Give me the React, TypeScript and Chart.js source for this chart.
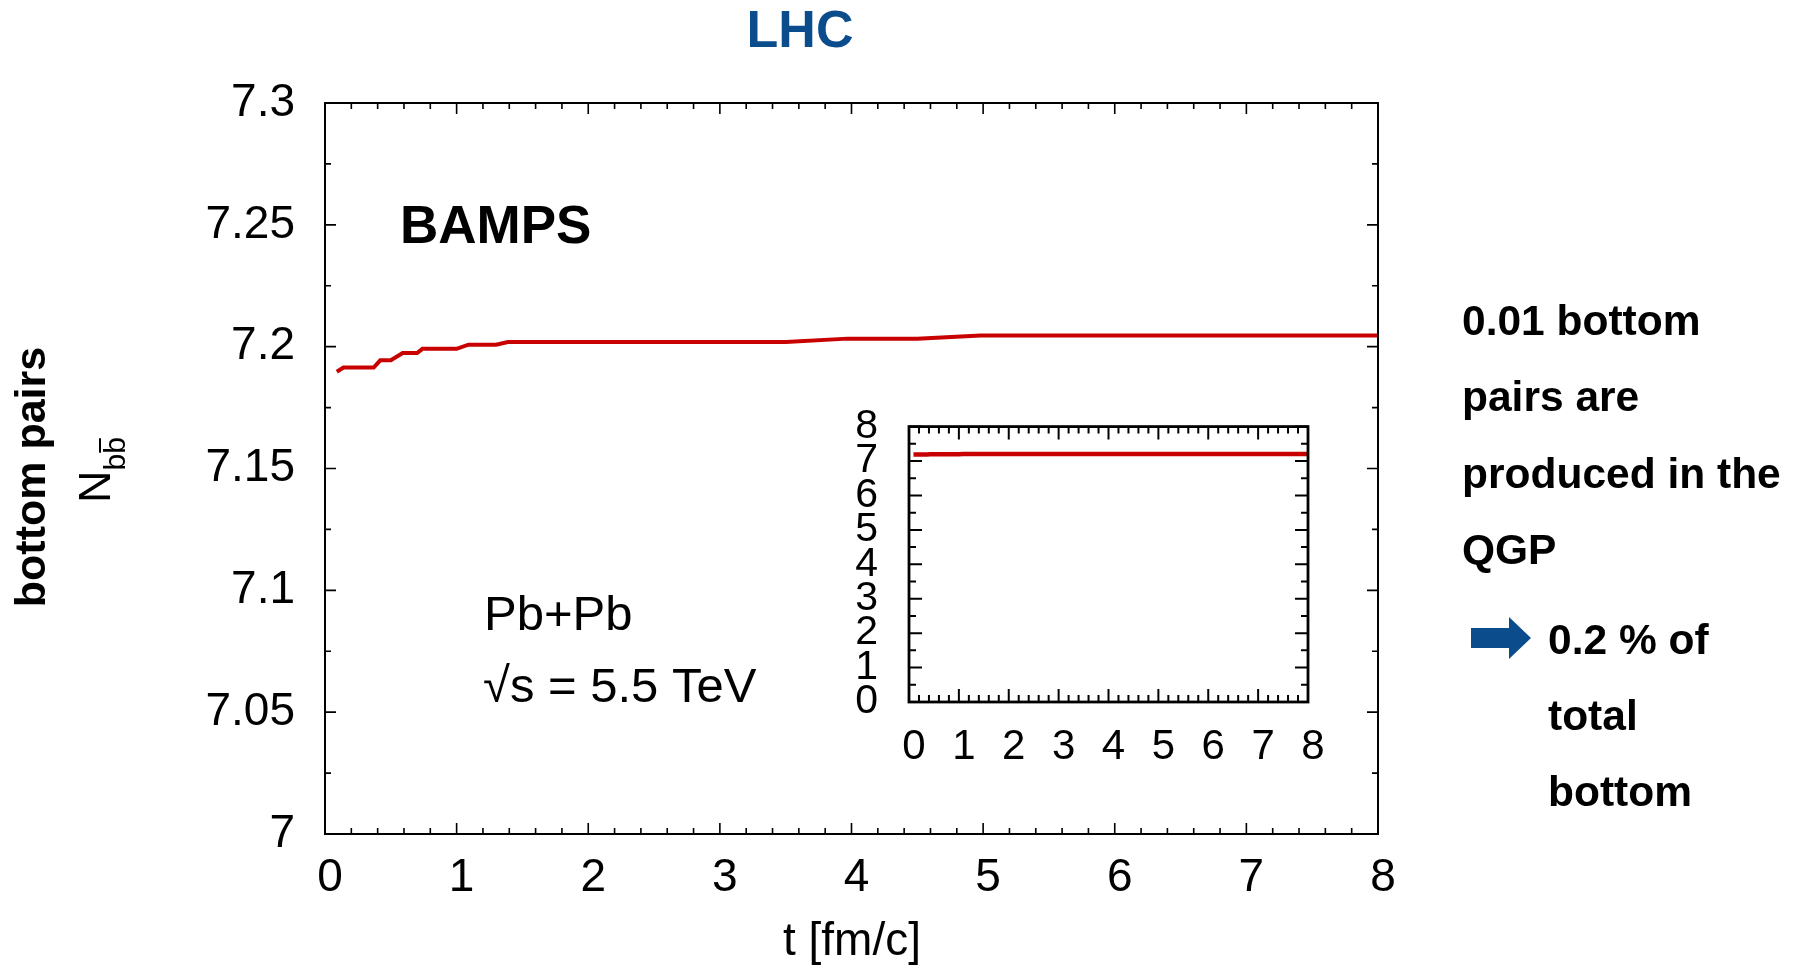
import React, { useEffect, useRef } from 'react';
import { Chart, registerables } from 'chart.js';

Chart.register(...registerables);

// ---------- data ----------
const TIME_FM = [0.09, 0.14, 0.37, 0.42, 0.5, 0.59, 0.7, 0.74, 1.0, 1.09, 1.3, 1.39, 3.5, 3.97, 4.5, 4.98, 8.0];
const N_BBBAR = [7.1897, 7.1914, 7.1914, 7.1944, 7.1944, 7.1974, 7.1974, 7.1991, 7.1991, 7.2008, 7.2008, 7.2019, 7.2019, 7.2033, 7.2033, 7.2046, 7.2046];

const X_TICKS = [0, 1, 2, 3, 4, 5, 6, 7, 8];
const X_TICK_LABELS = ['0', '1', '2', '3', '4', '5', '6', '7', '8'];
const Y_TICKS = [7, 7.05, 7.1, 7.15, 7.2, 7.25, 7.3];
const Y_TICK_LABELS = ['7', '7.05', '7.1', '7.15', '7.2', '7.25', '7.3'];

const INSET_X_TICKS = [0, 1, 2, 3, 4, 5, 6, 7, 8];
const INSET_X_LABELS = ['0', '1', '2', '3', '4', '5', '6', '7', '8'];
const INSET_Y_TICKS = [0, 1, 2, 3, 4, 5, 6, 7, 8];
const INSET_Y_LABELS = ['0', '1', '2', '3', '4', '5', '6', '7', '8'];

const TITLE = 'LHC';
const MODEL = 'BAMPS';
const SYSTEM = 'Pb+Pb';
const ENERGY = '√s = 5.5 TeV';
const X_TITLE = 't [fm/c]';
const Y_TITLE = 'bottom pairs';
const NOTE_LINES = ['0.01 bottom', 'pairs are', 'produced in the', 'QGP'];
const NOTE_LINES_2 = ['0.2 % of', 'total', 'bottom'];

const FONT = "'Liberation Sans', Arial, Helvetica, sans-serif";
const RED = '#c80000';
const BLUE = '#0b4c8c';

// ---------- plugins ----------
const frameTicksPlugin = {
  id: 'frameTicks',
  afterDatasetsDraw(chart: any, _args: any, o: any) {
    const { ctx, chartArea: a } = chart;
    const xs = chart.scales.x;
    const ys = chart.scales.y;
    ctx.save();
    ctx.strokeStyle = '#000';
    ctx.lineWidth = o.tickWidth;
    ctx.beginPath();
    const xr = Math.round(o.xMajor / o.xMinor);
    const xn = Math.round((xs.max - xs.min) / o.xMinor);
    for (let i = 0; i <= xn; i++) {
      const v = xs.min + i * o.xMinor;
      const len = i % xr === 0 ? o.major : o.minor;
      const p = xs.getPixelForValue(v);
      ctx.moveTo(p, a.bottom);
      ctx.lineTo(p, a.bottom - len);
      ctx.moveTo(p, a.top);
      ctx.lineTo(p, a.top + len);
    }
    const yr = Math.round(o.yMajor / o.yMinor);
    const yn = Math.round((ys.max - ys.min) / o.yMinor);
    for (let i = 0; i <= yn; i++) {
      const v = ys.min + i * o.yMinor;
      const len = i % yr === 0 ? o.major : o.minor;
      const p = ys.getPixelForValue(v);
      ctx.moveTo(a.left, p);
      ctx.lineTo(a.left + len, p);
      ctx.moveTo(a.right, p);
      ctx.lineTo(a.right - len, p);
    }
    ctx.stroke();
    ctx.lineWidth = o.frameWidth;
    ctx.strokeRect(a.left, a.top, a.right - a.left, a.bottom - a.top);
    ctx.restore();
  },
};

const textPlugin = {
  id: 'pageText',
  afterDraw(chart: any) {
    const ctx = chart.ctx as CanvasRenderingContext2D;
    ctx.save();
    ctx.textBaseline = 'alphabetic';

    // title
    ctx.fillStyle = BLUE;
    ctx.font = `bold 52px ${FONT}`;
    ctx.textAlign = 'center';
    ctx.fillText(TITLE, 800, 47);

    ctx.fillStyle = '#000';
    ctx.textAlign = 'left';
    ctx.font = `bold 53px ${FONT}`;
    ctx.fillText(MODEL, 400, 243);

    ctx.font = `49px ${FONT}`;
    ctx.fillText(SYSTEM, 484, 630);
    ctx.fillText(ENERGY, 483, 702);

    // x title
    ctx.textAlign = 'center';
    ctx.font = `46px ${FONT}`;
    ctx.fillText(X_TITLE, 852, 955);

    // y title
    ctx.save();
    ctx.translate(45, 477);
    ctx.rotate(-Math.PI / 2);
    ctx.font = `bold 43px ${FONT}`;
    ctx.textAlign = 'center';
    ctx.fillText(Y_TITLE, 0, 0);
    ctx.restore();

    ctx.save();
    ctx.translate(110, 503);
    ctx.rotate(-Math.PI / 2);
    ctx.textAlign = 'left';
    ctx.font = `45px ${FONT}`;
    ctx.fillText('N', 0, 0);
    const wN = ctx.measureText('N').width;
    ctx.font = `30px ${FONT}`;
    ctx.fillText('bb', wN, 15);
    const wb = ctx.measureText('b').width;
    ctx.strokeStyle = '#000';
    ctx.lineWidth = 2;
    ctx.beginPath();
    ctx.moveTo(wN + wb + 1, 15 - 25);
    ctx.lineTo(wN + 2 * wb - 1, 15 - 25);
    ctx.stroke();
    ctx.restore();

    // right notes
    ctx.textAlign = 'left';
    ctx.font = `bold 42.5px ${FONT}`;
    const base1 = [335, 411, 488, 564];
    NOTE_LINES.forEach((s, i) => ctx.fillText(s, 1462, base1[i]));
    const base2 = [654, 730, 806];
    NOTE_LINES_2.forEach((s, i) => ctx.fillText(s, 1548, base2[i]));

    // arrow
    ctx.fillStyle = BLUE;
    ctx.beginPath();
    ctx.moveTo(1471, 628);
    ctx.lineTo(1509, 628);
    ctx.lineTo(1509, 617);
    ctx.lineTo(1531, 638);
    ctx.lineTo(1509, 659);
    ctx.lineTo(1509, 648);
    ctx.lineTo(1471, 648);
    ctx.closePath();
    ctx.fill();
    ctx.restore();
  },
};

function points() {
  return TIME_FM.map((t, i) => ({ x: t, y: N_BBBAR[i] }));
}

export default function App() {
  const mainRef = useRef<HTMLCanvasElement>(null);
  const insetRef = useRef<HTMLCanvasElement>(null);

  useEffect(() => {
    const main = new Chart(mainRef.current as HTMLCanvasElement, {
      type: 'line',
      data: {
        datasets: [
          {
            data: points(),
            borderColor: RED,
            borderWidth: 4,
            pointRadius: 0,
            tension: 0,
            fill: false,
          },
        ],
      },
      options: {
        responsive: false,
        animation: false,
        events: [],
        layout: { padding: { left: 125, right: 421, top: 103, bottom: 54 } },
        plugins: {
          legend: { display: false },
          tooltip: { enabled: false },
          frameTicks: { tickWidth: 1.6, frameWidth: 2, major: 11, minor: 6, xMajor: 1, xMinor: 0.2, yMajor: 0.05, yMinor: 0.025 },
        } as any,
        scales: {
          x: {
            type: 'linear',
            min: 0,
            max: 8,
            afterBuildTicks: (s: any) => {
              s.ticks = X_TICKS.map((v) => ({ value: v }));
            },
            afterFit: (s: any) => {
              s.height = 80;
            },
            grid: { display: false, drawTicks: false },
            border: { display: false },
            ticks: {
              autoSkip: false,
              maxRotation: 0,
              padding: 17,
              labelOffset: 5,
              color: '#000',
              font: { family: FONT, size: 46 },
              callback: (_v: any, i: number) => X_TICK_LABELS[i],
            },
          },
          y: {
            type: 'linear',
            min: 7,
            max: 7.3,
            afterBuildTicks: (s: any) => {
              s.ticks = Y_TICKS.map((v) => ({ value: v }));
            },
            afterFit: (s: any) => {
              s.width = 200;
            },
            grid: { display: false, drawTicks: false },
            border: { display: false },
            ticks: {
              autoSkip: false,
              padding: 30,
              color: '#000',
              font: { family: FONT, size: 46 },
              callback: (_v: any, i: number) => Y_TICK_LABELS[i],
            },
          },
        },
      } as any,
      plugins: [frameTicksPlugin, textPlugin] as any,
    });

    const inset = new Chart(insetRef.current as HTMLCanvasElement, {
      type: 'line',
      data: {
        datasets: [
          {
            data: points(),
            borderColor: RED,
            borderWidth: 4.5,
            pointRadius: 0,
            tension: 0,
            fill: false,
          },
        ],
      },
      options: {
        responsive: false,
        animation: false,
        events: [],
        layout: { padding: { left: 29, right: 32, top: 7, bottom: 13 } },
        plugins: {
          legend: { display: false },
          tooltip: { enabled: false },
          frameTicks: { tickWidth: 2, frameWidth: 2.8, major: 13, minor: 7, xMajor: 1, xMinor: 0.2, yMajor: 1, yMinor: 0.5 },
        } as any,
        scales: {
          x: {
            type: 'linear',
            min: 0,
            max: 8,
            afterBuildTicks: (s: any) => {
              s.ticks = INSET_X_TICKS.map((v) => ({ value: v }));
            },
            afterFit: (s: any) => {
              s.height = 70;
            },
            grid: { display: false, drawTicks: false },
            border: { display: false },
            ticks: {
              autoSkip: false,
              maxRotation: 0,
              padding: 20,
              labelOffset: 5,
              color: '#000',
              font: { family: FONT, size: 42 },
              callback: (_v: any, i: number) => INSET_X_LABELS[i],
            },
          },
          y: {
            type: 'linear',
            min: 0,
            max: 8,
            afterBuildTicks: (s: any) => {
              s.ticks = INSET_Y_TICKS.map((v) => ({ value: v }));
            },
            afterFit: (s: any) => {
              s.width = 60;
            },
            grid: { display: false, drawTicks: false },
            border: { display: false },
            ticks: {
              autoSkip: false,
              padding: 31,
              color: '#000',
              font: { family: FONT, size: 41 },
              callback: (_v: any, i: number) => INSET_Y_LABELS[i],
            },
          },
        },
      } as any,
      plugins: [frameTicksPlugin] as any,
    });

    return () => {
      main.destroy();
      inset.destroy();
    };
  }, []);

  return (
    <div style={{ position: 'absolute', left: 0, top: 0, width: 1799, height: 968, background: '#fff', overflow: 'hidden' }}>
      <canvas ref={mainRef} width={1799} height={968} style={{ position: 'absolute', left: 0, top: 0 }} />
      <canvas ref={insetRef} width={520} height={414} style={{ position: 'absolute', left: 820, top: 371 }} />
    </div>
  );
}
